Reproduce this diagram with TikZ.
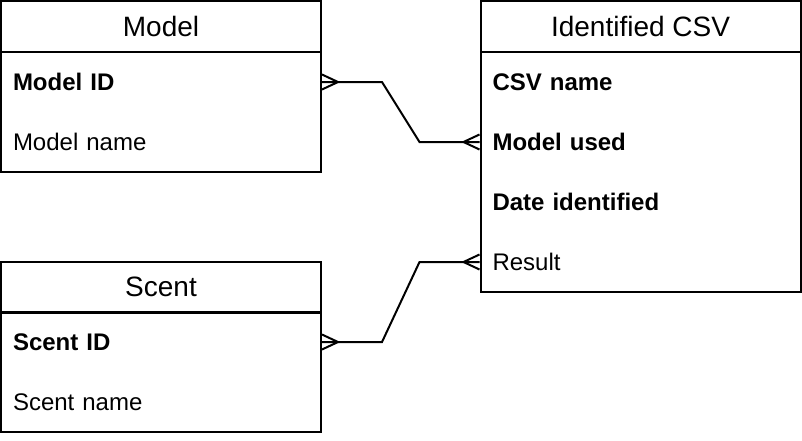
\documentclass[tikz,border=0pt]{standalone}
\usepackage{fontspec}
\setmainfont{Liberation Sans}
\usetikzlibrary{calc}
\newcommand\crowfoot[2]{%
  \draw ($(#1)+(0,-7.5)$) -- ($(#1)+(#2*16,0)$) -- ($(#1)+(0,7.5)$);}
\begin{document}
\begin{tikzpicture}[x=1pt,y=-1pt,line width=2pt,line join=miter,
  title/.style={draw,minimum width=320pt,minimum height=51pt,inner sep=0pt,
    font=\fontsize{28}{32}\selectfont},
  body/.style={draw,minimum width=320pt,inner sep=0pt},
  row/.style={minimum width=320pt,minimum height=60pt,text width=296pt,
    inner xsep=12pt,inner ysep=0pt,align=left,font=\fontsize{24}{28}\selectfont},
  keyrow/.style={row,font=\bfseries\fontsize{24}{28}\selectfont},
  link/.style={draw,line width=2pt}]
\useasboundingbox (0,0) rectangle (802,440);
% Model
\node[title] (mt) at (161,26.5) {Model};
\node[body,minimum height=120pt] (mb) at (161,112) {};
\node[keyrow] (mid) at (161,82) {Model ID};
\node[row] (mname) at (161,142) {Model name};
% Identified CSV
\node[title] (ct) at (640.5,26.5) {Identified CSV};
\node[body,minimum height=240pt] (cb) at (640.5,172) {};
\node[keyrow] (cname) at (640.5,82) {CSV name};
\node[keyrow] (cused) at (640.5,142) {Model used};
\node[keyrow] (cdate) at (640.5,202) {Date identified};
\node[row] (cres) at (640.5,262) {Result};
% Scent
\node[title] (st) at (161,287) {Scent};
\node[body,minimum height=120pt] (sb) at (161,372) {};
\node[keyrow] (sid) at (161,342) {Scent ID};
\node[row] (sname) at (161,402) {Scent name};
% connectors
\draw[link] (mid.east) -- ++(60,0) -- ($(cused.west)+(-60,0)$) -- (cused.west);
\crowfoot{mid.east}{1}
\crowfoot{cused.west}{-1}
\draw[link] (sid.east) -- ++(60,0) -- ($(cres.west)+(-60,0)$) -- (cres.west);
\crowfoot{sid.east}{1}
\crowfoot{cres.west}{-1}
\end{tikzpicture}
\end{document}
